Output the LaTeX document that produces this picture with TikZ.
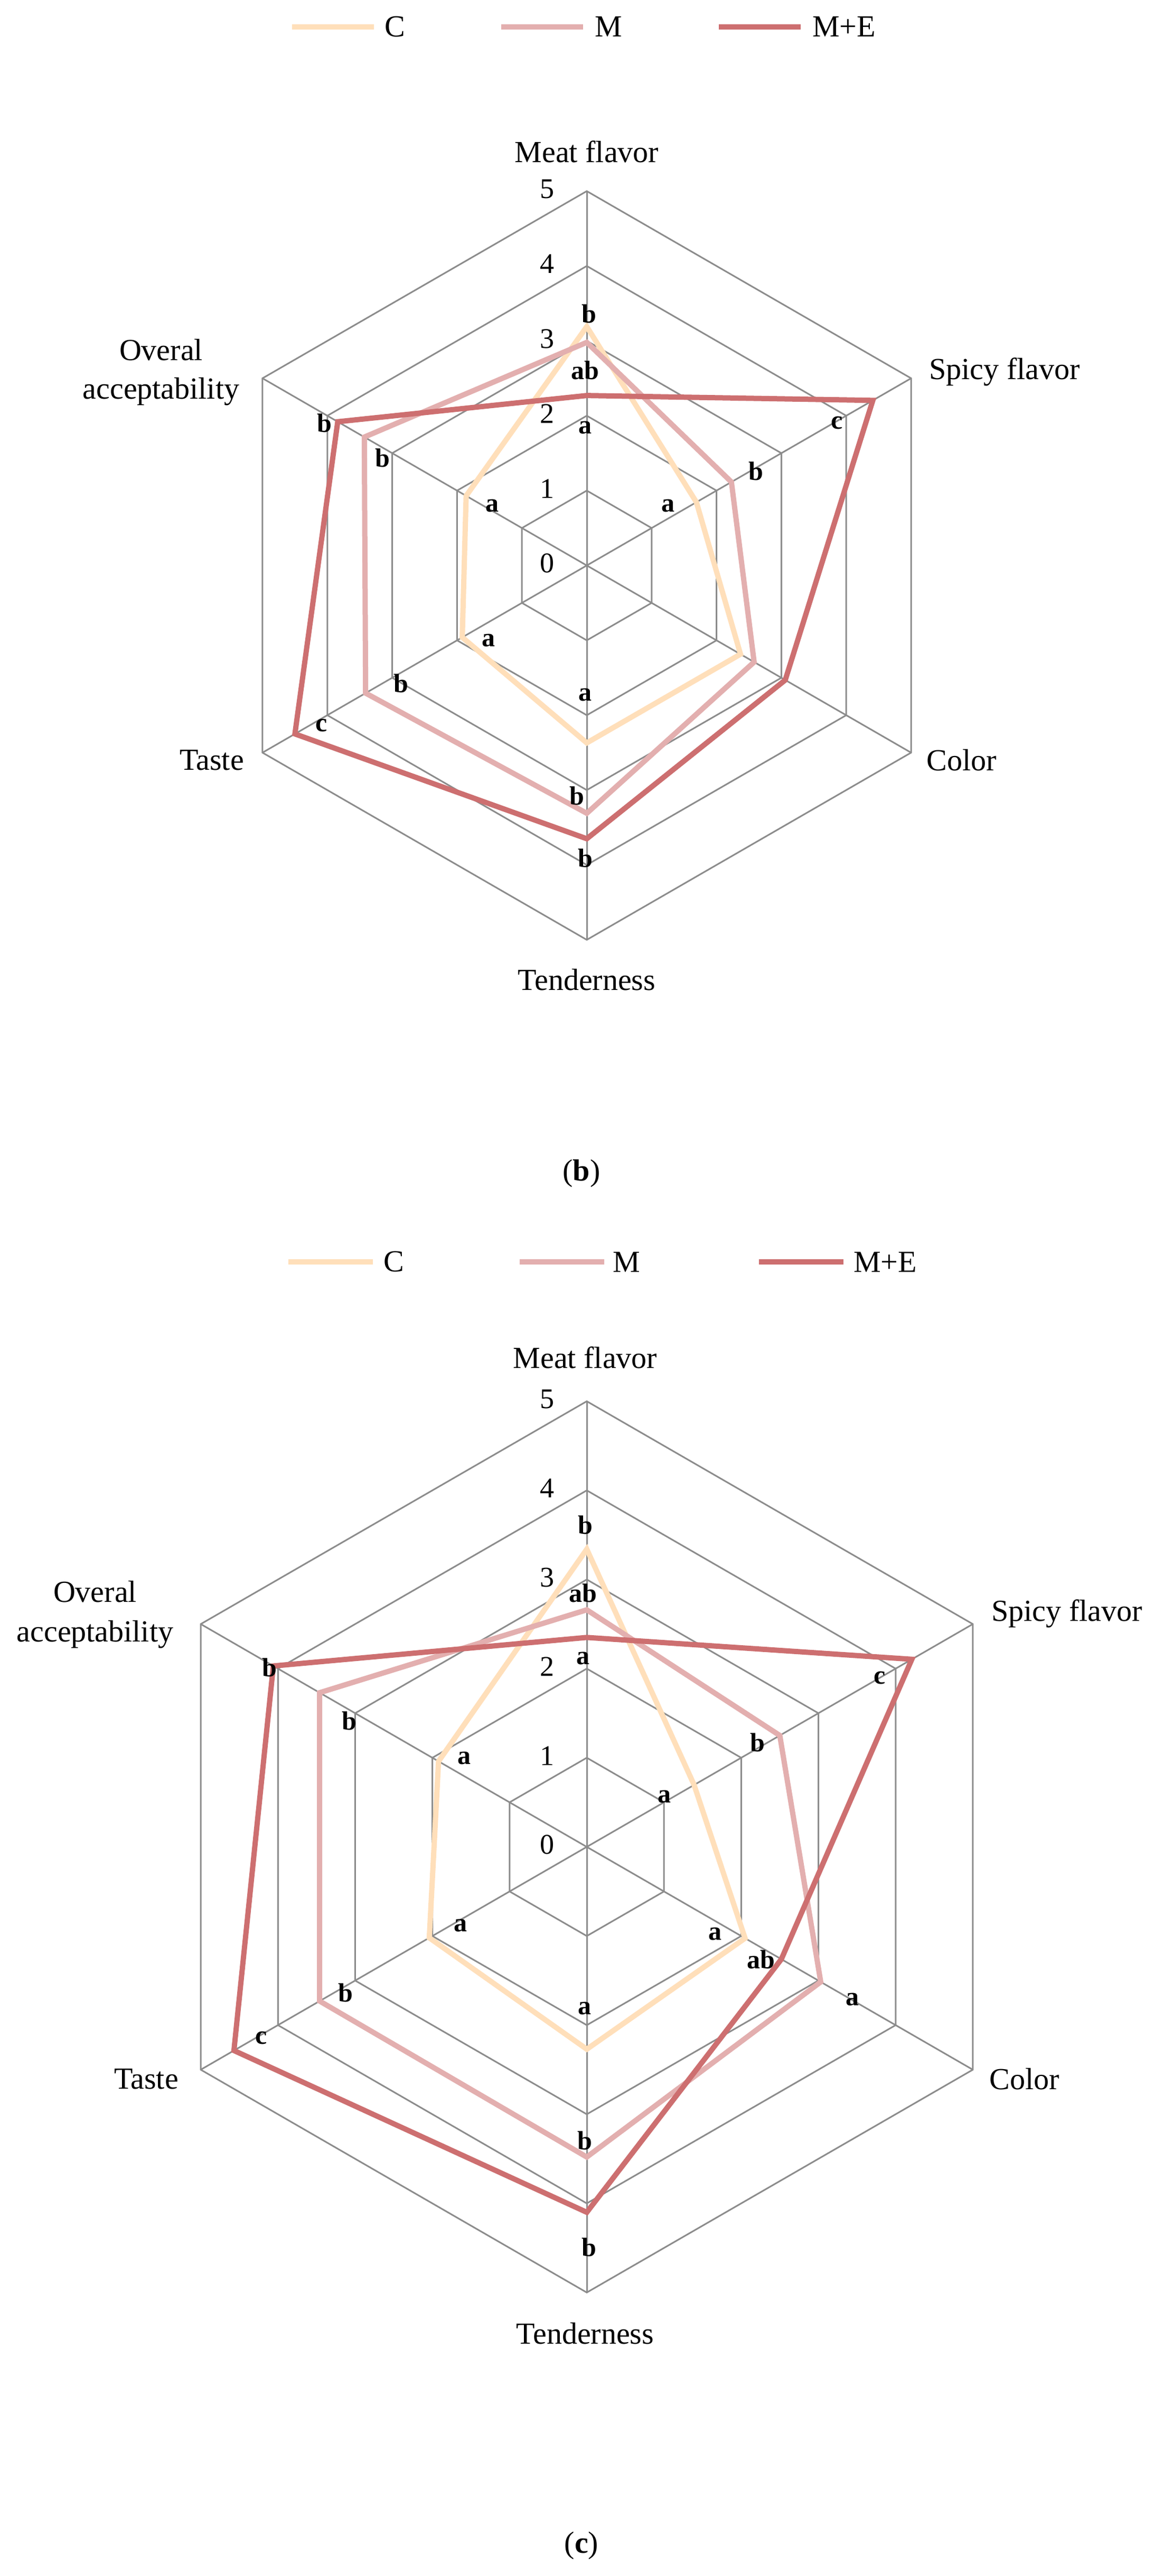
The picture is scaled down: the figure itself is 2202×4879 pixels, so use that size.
\documentclass[tikz,border=0pt]{standalone}
\usepackage{fontspec}
\setmainfont{Liberation Serif}
\definecolor{cC}{HTML}{FFDFBA}
\definecolor{cM}{HTML}{E3AFAF}
\definecolor{cME}{HTML}{CD6F70}
\definecolor{grid}{HTML}{8C8C8C}
\begin{document}
\begin{tikzpicture}[x=1pt,y=-1pt,
  gridl/.style={draw=grid,line width=3pt},
  ser/.style={line width=10pt,line join=miter},
  txt/.style={font=\fontsize{58}{66}\selectfont,inner sep=0pt},
  let/.style={font=\fontsize{50}{56}\selectfont\bfseries,inner sep=0pt},
  num/.style={font=\fontsize{54}{60}\selectfont,inner sep=0pt}]
\useasboundingbox[fill=white] (0,0) rectangle (2202,4879);
% ---------- chart (b) ----------
\foreach \x/\c in {553/cC,949/cM,1361/cME}{\draw[\c,line width=10pt] (\x,51)--++(155,0);}
\node[txt,anchor=west] at (728,51) {C};
\node[txt,anchor=west] at (1126,51) {M};
\node[txt,anchor=west] at (1538,51) {M+E};
\begin{scope}[shift={(1111,1071)},yscale=-1]
 \def\u{141.8}
 \foreach \k in {1,...,5}{\draw[gridl] (90:\k*\u) \foreach \a in {30,-30,-90,210,150}{--(\a:\k*\u)} --cycle;}
 \foreach \a in {90,30,-30,-90,210,150}{\draw[gridl] (0,0)--(\a:5*\u);}
 \foreach \k in {0,...,5}{\node[num] at (-75,\k*\u+4) {\k};}
 \draw[ser,cC] (90:3.19*\u)--(30:1.69*\u)--(-30:2.37*\u)--(-90:2.37*\u)--(210:1.92*\u)--(150:1.86*\u)--cycle;
 \draw[ser,cM] (90:2.98*\u)--(30:2.23*\u)--(-30:2.58*\u)--(-90:3.31*\u)--(210:3.41*\u)--(150:3.43*\u)--cycle;
 \draw[ser,cME] (90:2.27*\u)--(30:4.41*\u)--(-30:3.06*\u)--(-90:3.65*\u)--(210:4.50*\u)--(150:3.84*\u)--cycle;
\end{scope}
\foreach \x/\y/\l in {1115/594/b,1108/701/ab,1108/810/a,1585/801/c,1431/892/b,1265/958/a,614/801/b,724/867/b,932/958/a,925/1213/a,759/1294/b,609/1374/c,1108/1316/a,1092/1507/b,1108/1625/b}{\node[let] at (\x,\y) {\l};}
\node[txt] at (1111,287) {Meat flavor};
\node[txt] at (1902,704) {Spicy flavor};
\node[txt] at (1821,1440) {Color};
\node[txt] at (1111,1856) {Tenderness};
\node[txt] at (401,1440) {Taste};
\node[txt] at (305,663) {Overal};
\node[txt] at (305,742) {acceptability};
\node[txt] at (1101,2223) {(\textbf{b})};
% ---------- chart (c) ----------
\foreach \x/\c in {546/cC,984/cM,1437/cME}{\draw[\c,line width=10pt] (\x,2390)--++(160,0);}
\node[txt,anchor=west] at (726,2390) {C};
\node[txt,anchor=west] at (1160,2390) {M};
\node[txt,anchor=west] at (1616,2390) {M+E};
\begin{scope}[shift={(1111,3498)},yscale=-1]
 \def\u{168.8}
 \foreach \k in {1,...,5}{\draw[gridl] (90:\k*\u) \foreach \a in {30,-30,-90,210,150}{--(\a:\k*\u)} --cycle;}
 \foreach \a in {90,30,-30,-90,210,150}{\draw[gridl] (0,0)--(\a:5*\u);}
 \foreach \k in {0,...,5}{\node[num] at (-75,\k*\u+4) {\k};}
 \draw[ser,cC] (90:3.34*\u)--(30:1.39*\u)--(-30:2.05*\u)--(-90:2.27*\u)--(210:2.04*\u)--(150:1.92*\u)--cycle;
 \draw[ser,cM] (90:2.66*\u)--(30:2.50*\u)--(-30:3.03*\u)--(-90:3.48*\u)--(210:3.46*\u)--(150:3.46*\u)--cycle;
 \draw[ser,cME] (90:2.35*\u)--(30:4.21*\u)--(-30:2.52*\u)--(-90:4.10*\u)--(210:4.57*\u)--(150:4.06*\u)--cycle;
\end{scope}
\foreach \x/\y/\l in {1108/2888/b,1104/3017/ab,1104/3141/a,1666/3178/c,1434/3300/b,1258/3403/a,1354/3663/a,1441/3711/ab,1614/3787/a,1107/3804/a,1107/4054/b,1115/4256/b,872/3647/a,654/3774/b,495/3860/c,510/3158/b,661/3259/b,879/3330/a}{\node[let] at (\x,\y) {\l};}
\node[txt] at (1108,2571) {Meat flavor};
\node[txt] at (2020,3056) {Spicy flavor};
\node[txt] at (1940,3938) {Color};
\node[txt] at (1108,4420) {Tenderness};
\node[txt] at (277,3938) {Taste};
\node[txt] at (180,3015) {Overal};
\node[txt] at (180,3096) {acceptability};
\node[txt] at (1101,4821) {(\textbf{c})};
\end{tikzpicture}
\end{document}
